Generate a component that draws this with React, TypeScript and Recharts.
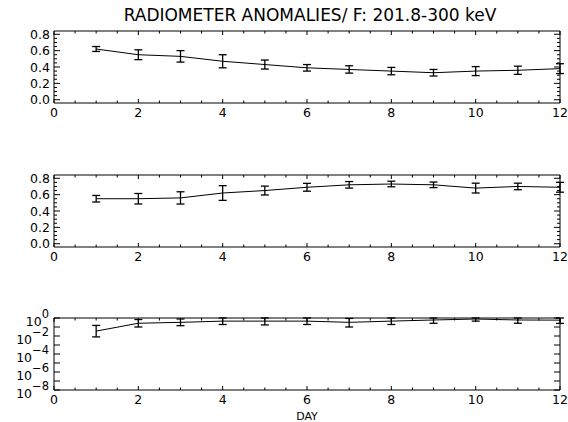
import React from "react";
import { LineChart, Line, XAxis, YAxis, ErrorBar } from "recharts";

const DAYS = [1, 2, 3, 4, 5, 6, 7, 8, 9, 10, 11, 12];

// panel 1
const topVals = [0.62, 0.55, 0.53, 0.47, 0.43, 0.39, 0.37, 0.35, 0.33, 0.35, 0.36, 0.38];
const topErr = [0.03, 0.06, 0.07, 0.08, 0.055, 0.04, 0.045, 0.045, 0.04, 0.055, 0.05, 0.06];

// panel 2
const midVals = [0.55, 0.55, 0.56, 0.62, 0.65, 0.69, 0.72, 0.73, 0.72, 0.68, 0.7, 0.69];
const midErr = [0.04, 0.064, 0.075, 0.09, 0.054, 0.048, 0.04, 0.034, 0.034, 0.06, 0.04, 0.06];

// panel 3 (log), error bar ends as values
const logVals = [0.035, 0.26, 0.33, 0.45, 0.45, 0.45, 0.33, 0.45, 0.6, 0.77, 0.6, 0.58];
const logLow = [0.008, 0.1, 0.14, 0.19, 0.17, 0.19, 0.1, 0.19, 0.26, 0.45, 0.26, 0.25];
const logHigh = [0.15, 0.68, 0.78, 1.0, 1.0, 1.0, 0.9, 1.0, 1.0, 1.0, 1.0, 1.0];

const X_MAJOR = [0, 2, 4, 6, 8, 10, 12];
const X_TICKS = Array.from({ length: 25 }, (_, i) => i * 0.5);
const LIN_MAJOR = [0, 0.2, 0.4, 0.6, 0.8];
const LIN_TICKS = Array.from({ length: 17 }, (_, i) => i * 0.05);
const LOG_TICKS = [1e-8, 1e-7, 1e-6, 1e-5, 1e-4, 1e-3, 1e-2, 1e-1, 1];
const LOG_LABELS = [0, -2, -4, -6, -8];

const TITLE = "RADIOMETER ANOMALIES/ F: 201.8-300 keV";
const XTITLE = "DAY";

const FONT = "DejaVu Sans, sans-serif";
const BOX_H = 72;

function XTick(props: any) {
  const { x, y, payload, side } = props;
  const v = payload.value;
  const major = X_MAJOR.some((m) => Math.abs(m - v) < 1e-6);
  const len = major ? 4 : 2.5;
  const dir = side === "bottom" ? -1 : 1;
  return (
    <g>
      <line x1={x} x2={x} y1={y} y2={y + dir * len} stroke="#000" />
      {side === "bottom" && major && (
        <text x={x} y={y + 14} textAnchor="middle" fontSize={12.5} fontFamily={FONT} fill="#000">
          {v}
        </text>
      )}
    </g>
  );
}

function LinTick(props: any) {
  const { x, y, payload, side } = props;
  const v = payload.value;
  const major = LIN_MAJOR.some((m) => Math.abs(m - v) < 1e-6);
  const len = major ? 6 : 3;
  const dir = side === "left" ? 1 : -1;
  return (
    <g>
      <line x1={x} x2={x + dir * len} y1={y} y2={y} stroke="#000" />
      {side === "left" && major && (
        <text x={x - 4} y={y + 4.5} textAnchor="end" fontSize={12.5} fontFamily={FONT} fill="#000">
          {v.toFixed(1)}
        </text>
      )}
    </g>
  );
}

function LogTick(props: any) {
  const { x, y, payload, side } = props;
  const e = Math.round(Math.log10(payload.value));
  const dir = side === "left" ? 1 : -1;
  return (
    <g>
      <line x1={x} x2={x + dir * 6} y1={y} y2={y} stroke="#000" />
      {side === "left" && LOG_LABELS.includes(e) && (
        <text x={x - 5} y={y + 8} textAnchor="end" fontSize={12.5} fontFamily={FONT} fill="#000">
          10
          <tspan dy={-8} fontSize={11.5}>
            {e === 0 ? "0" : "\u2212" + -e}
          </tspan>
        </text>
      )}
    </g>
  );
}

function Panel({ data, boxTop, log }: { data: any[]; boxTop: number; log?: boolean }) {
  const yProps: any = log
    ? { scale: "log", domain: [1e-8, 1], ticks: LOG_TICKS }
    : { domain: [-0.04, 0.84], ticks: LIN_TICKS };
  const YT = log ? LogTick : LinTick;
  return (
    <div style={{ position: "absolute", left: 0, top: boxTop - 30 }}>
      <LineChart
        width={568}
        height={30 + BOX_H + 30}
        data={data}
        margin={{ top: 29, right: 7, bottom: 0, left: 0 }}
      >
        <XAxis
          xAxisId="b"
          dataKey="day"
          type="number"
          domain={[0, 12]}
          ticks={X_TICKS}
          interval={0}
          allowDataOverflow
          tickSize={0}
          tickMargin={0}
          tickLine={false}
          height={30}
          axisLine={{ stroke: "#000" }}
          tick={(p: any) => <XTick {...p} side="bottom" />}
        />
        <XAxis
          xAxisId="t"
          orientation="top"
          dataKey="day"
          type="number"
          domain={[0, 12]}
          ticks={X_TICKS}
          interval={0}
          allowDataOverflow
          tickSize={0}
          tickMargin={0}
          tickLine={false}
          height={1}
          axisLine={{ stroke: "#000" }}
          tick={(p: any) => <XTick {...p} side="top" />}
        />
        <YAxis
          yAxisId="l"
          type="number"
          {...yProps}
          interval={0}
          allowDataOverflow
          tickSize={0}
          tickMargin={0}
          tickLine={false}
          width={54}
          axisLine={{ stroke: "#000" }}
          tick={(p: any) => <YT {...p} side="left" />}
        />
        <YAxis
          yAxisId="r"
          orientation="right"
          type="number"
          {...yProps}
          interval={0}
          allowDataOverflow
          tickSize={0}
          tickMargin={0}
          tickLine={false}
          width={1}
          axisLine={{ stroke: "#000" }}
          tick={(p: any) => <YT {...p} side="right" />}
        />
        <Line
          xAxisId="b"
          yAxisId="l"
          dataKey="v"
          type="linear"
          stroke="#000"
          strokeWidth={1}
          dot={false}
          activeDot={false}
          isAnimationActive={false}
        >
          <ErrorBar
            dataKey="err"
            direction="y"
            width={4}
            stroke="#000"
            strokeWidth={1.3}
            isAnimationActive={false}
          />
        </Line>
        <Line
          xAxisId="t"
          yAxisId="r"
          dataKey="v"
          stroke="none"
          dot={false}
          activeDot={false}
          isAnimationActive={false}
        />
      </LineChart>
    </div>
  );
}

export default function App() {
  const topData = DAYS.map((d, i) => ({ day: d, v: topVals[i], err: topErr[i] }));
  const midData = DAYS.map((d, i) => ({ day: d, v: midVals[i], err: midErr[i] }));
  const logData = DAYS.map((d, i) => ({
    day: d,
    v: logVals[i],
    err: [logVals[i] - logLow[i], logHigh[i] - logVals[i]],
  }));
  return (
    <div
      style={{
        position: "absolute",
        left: 0,
        top: 0,
        width: 568,
        height: 422,
        background: "#fff",
        overflow: "hidden",
      }}
    >
      <div
        style={{
          position: "absolute",
          left: 310,
          top: 7,
          transform: "translateX(-50%)",
          whiteSpace: "nowrap",
          fontFamily: FONT,
          fontSize: 17,
          lineHeight: "17px",
          color: "#000",
        }}
      >
        {TITLE}
      </div>
      <Panel data={topData} boxTop={31} />
      <Panel data={midData} boxTop={175} />
      <Panel data={logData} boxTop={318} log />
      <div
        style={{
          position: "absolute",
          left: 307,
          top: 411,
          transform: "translateX(-50%)",
          fontFamily: FONT,
          fontSize: 11,
          lineHeight: "12px",
          color: "#000",
        }}
      >
        {XTITLE}
      </div>
    </div>
  );
}
